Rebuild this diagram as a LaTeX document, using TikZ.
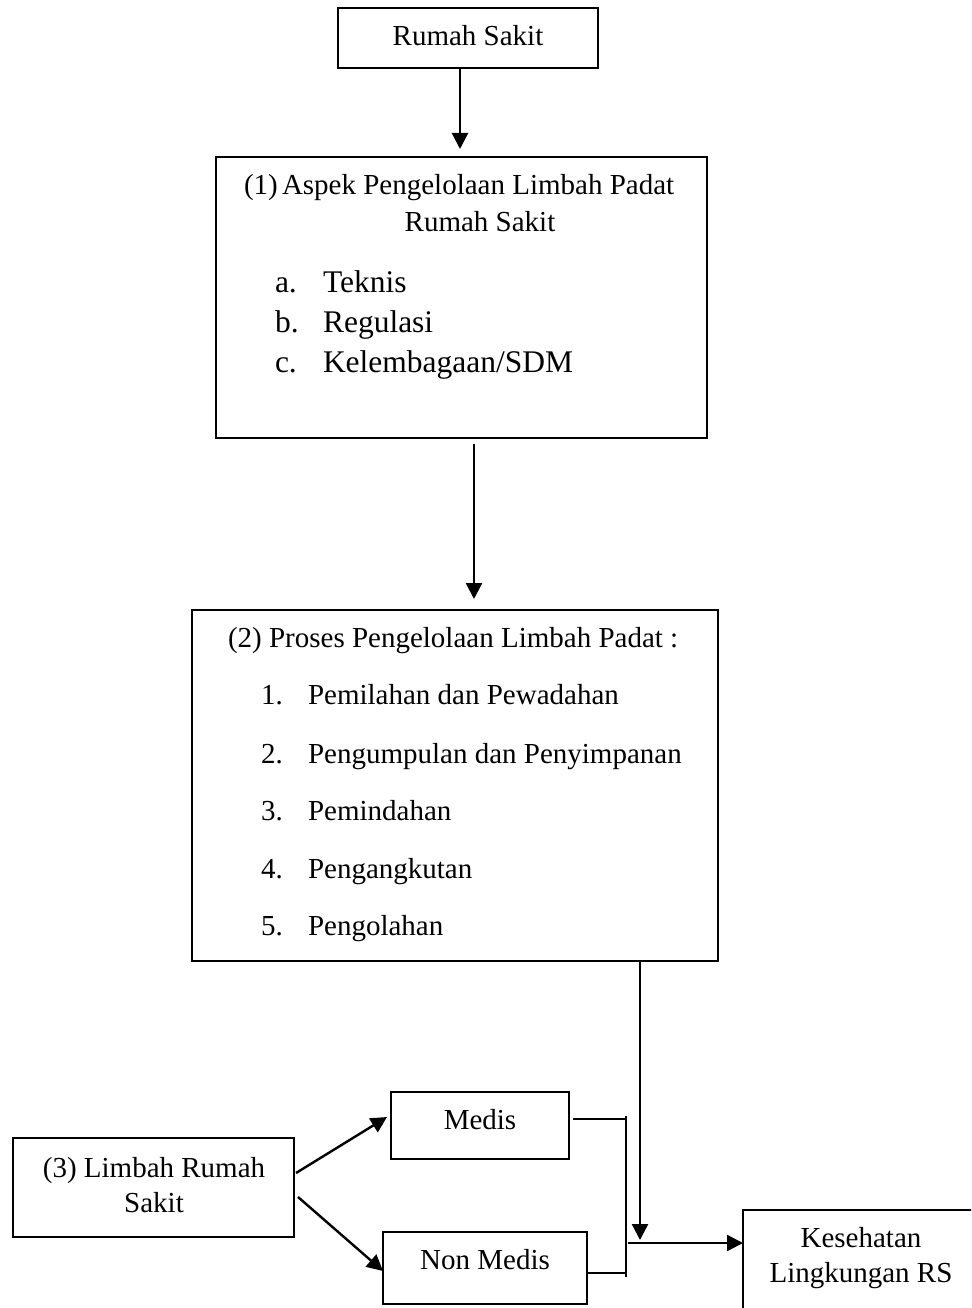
\documentclass[tikz,border=0pt]{standalone}
\usepackage{fontspec}
\setmainfont{Liberation Serif}
\usetikzlibrary{arrows.meta}
\begin{document}
\begin{tikzpicture}[x=1pt,y=-1pt,
  box/.style={draw, line width=1.6pt, inner sep=0pt, outer sep=0pt, rectangle},
  txt/.style={font=\fontsize{29}{35}\selectfont, inner sep=0pt, outer sep=0pt},
  big/.style={font=\fontsize{31.5}{38}\selectfont, inner sep=0pt, outer sep=0pt},
  arr/.style={line width=2.4pt, -{Triangle[length=16pt,width=16pt]}},
  ln/.style={line width=1.6pt}]
\useasboundingbox (0,0) rectangle (971,1308);
\clip (0,0) rectangle (971,1308);

% Box: Rumah Sakit
\node[box, minimum width=260pt, minimum height=60pt] (rs) at (468,38) {};
\node[txt, anchor=base] (rst) at (468,46) {Rumah Sakit};

% Box 1: Aspek
\node[box, minimum width=491pt, minimum height=281pt] (asp) at (461.5,297.5) {};
\node[txt, anchor=base west] (aspn) at (244,194) {(1)};
\node[txt, anchor=base west] (asp1) at (282,194) {Aspek Pengelolaan Limbah Padat};
\node[txt, anchor=base] (asp2) at (480,231) {Rumah Sakit};
\node[big, anchor=base west] (la) at (275,292) {a.};
\node[big, anchor=base west] (ta) at (323,292) {Teknis};
\node[big, anchor=base west] (lb) at (275,332) {b.};
\node[big, anchor=base west] (tb) at (323,332) {Regulasi};
\node[big, anchor=base west] (lc) at (275,372) {c.};
\node[big, anchor=base west] (tc) at (323,372) {Kelembagaan/SDM};

% Box 2: Proses
\node[box, minimum width=526pt, minimum height=351pt] (pro) at (455,785.5) {};
\node[txt, anchor=base west] (prot) at (228,647) {(2) Proses Pengelolaan Limbah Padat :};
\node[txt, anchor=base west] (p1n) at (261,704) {1.};
\node[txt, anchor=base west] (p1) at (308,704) {Pemilahan dan Pewadahan};
\node[txt, anchor=base west] (p2n) at (261,763) {2.};
\node[txt, anchor=base west] (p2) at (308,763) {Pengumpulan dan Penyimpanan};
\node[txt, anchor=base west] (p3n) at (261,820) {3.};
\node[txt, anchor=base west] (p3) at (308,820) {Pemindahan};
\node[txt, anchor=base west] (p4n) at (261,878) {4.};
\node[txt, anchor=base west] (p4) at (308,878) {Pengangkutan};
\node[txt, anchor=base west] (p5n) at (261,935) {5.};
\node[txt, anchor=base west] (p5) at (308,935) {Pengolahan};

% Box 3: Limbah Rumah Sakit
\node[box, minimum width=281pt, minimum height=99pt] (lim) at (153.5,1187.5) {};
\node[txt, anchor=base] (lim1) at (154,1177) {(3) Limbah Rumah};
\node[txt, anchor=base] (lim2) at (154,1212) {Sakit};

% Medis / Non Medis
\node[box, minimum width=178pt, minimum height=67pt] (med) at (480,1125.5) {};
\node[txt, anchor=base] (medt) at (480,1129) {Medis};
\node[box, minimum width=204pt, minimum height=72pt] (non) at (485,1268) {};
\node[txt, anchor=base] (nont) at (485,1269) {Non Medis};

% Kesehatan Lingkungan RS (runs past the page edge)
\node[box, minimum width=247pt, minimum height=120pt] (kes) at (866.5,1270) {};
\node[txt, anchor=base] (kes1) at (861,1247) {Kesehatan};
\node[txt, anchor=base] (kes2) at (861,1282) {Lingkungan RS};

% connector points
\coordinate (a1s) at (460,68);
\coordinate (a1e) at (460,149);
\coordinate (a2s) at (474,444);
\coordinate (a2e) at (474,599);
\coordinate (a3s) at (640,961);
\coordinate (a3e) at (640,1240);
\coordinate (brt) at (626,1116);
\coordinate (brb) at (626,1277);
\coordinate (mr) at (573,1119);
\coordinate (mj) at (626,1119);
\coordinate (nr) at (587,1273);
\coordinate (nj) at (626,1273);
\coordinate (hs) at (628,1243);
\coordinate (he) at (kes.west |- hs);
\coordinate (d1s) at (296,1173);
\coordinate (d1e) at (387,1117);
\coordinate (d2s) at (298,1197);
\coordinate (d2e) at (383,1271);

\draw[arr] (a1s) -- (a1e);
\draw[arr] (a2s) -- (a2e);
\draw[arr] (a3s) -- (a3e);
\draw[arr] (hs) -- (he);
\draw[arr] (d1s) -- (d1e);
\draw[arr] (d2s) -- (d2e);
\draw[ln] (brt) -- (brb);
\draw[ln] (mr) -- (mj);
\draw[ln] (nr) -- (nj);
\end{tikzpicture}
\end{document}
